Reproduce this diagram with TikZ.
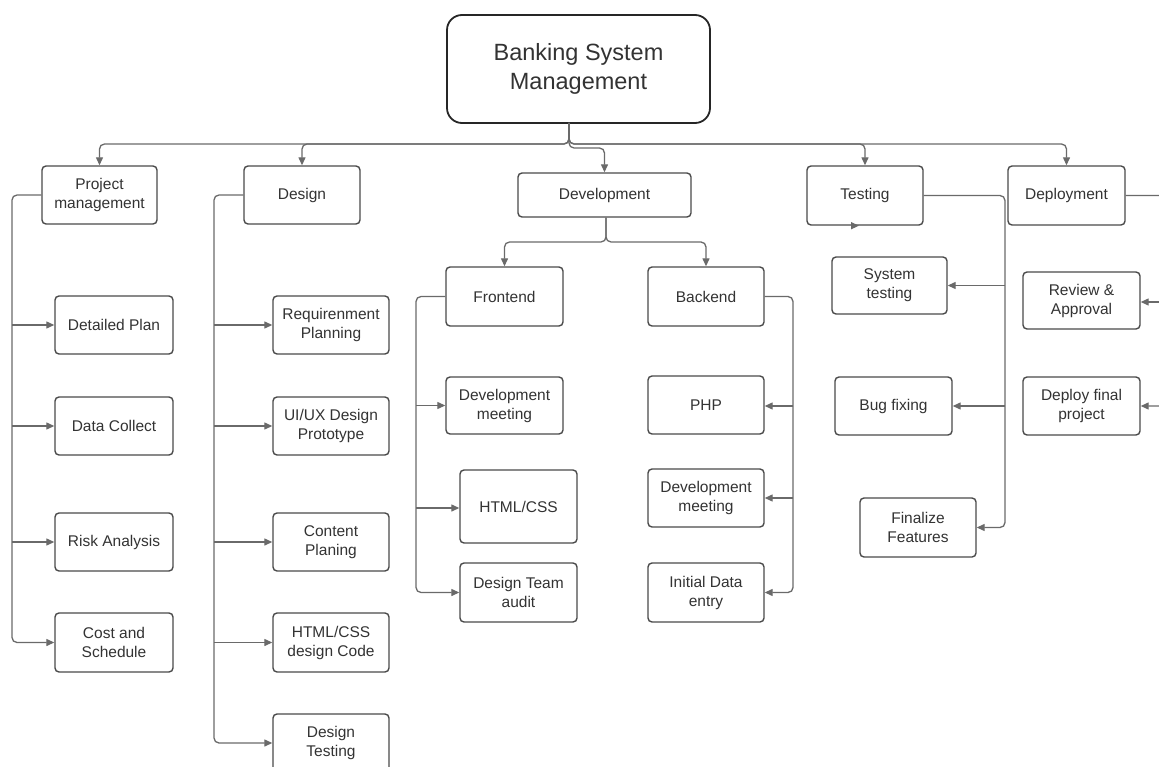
\documentclass[tikz,border=0pt]{standalone}
\usepackage{fontspec}
\setmainfont{Liberation Sans}
\usetikzlibrary{arrows.meta,calc}
\definecolor{boxc}{HTML}{4A4A4A}
\definecolor{rootc}{HTML}{262626}
\definecolor{linec}{HTML}{6A6A6A}
\definecolor{txt}{HTML}{333333}
\begin{document}
\begin{tikzpicture}[x=1pt,y=-1pt,
  wbs/.style={draw=boxc, line width=1.4pt, rounded corners=4pt, fill=white,
    text=txt, align=center, inner sep=0pt, font=\fontsize{15.5}{19}\selectfont},
  rootbox/.style={draw=rootc, line width=1.8pt, rounded corners=15pt, fill=white,
    text=txt, align=center, inner sep=0pt, font=\fontsize{23.5}{29}\selectfont},
  link/.style={draw=linec, line width=1.3pt, rounded corners=5pt},
  conn/.style={link, -{Triangle[length=8pt,width=7pt]}},
]
\useasboundingbox (0,0) rectangle (1159,767);
\clip (0,0) rectangle (1159,767);
\fill[white] (0,0) rectangle (1159,767);

% ---- top level ----
\node[rootbox, minimum width=263, minimum height=108] (root) at (578.5,69) {Banking System\\Management};
\node[wbs, minimum width=115, minimum height=58] (pm)  at (99.5,195)   {Project\\management};
\node[wbs, minimum width=116, minimum height=58] (ds)  at (302,195)    {Design};
\node[wbs, minimum width=173, minimum height=44] (dv)  at (604.5,195)  {Development};
\node[wbs, minimum width=116, minimum height=59] (ts)  at (865,195.5)  {Testing};
\node[wbs, minimum width=117, minimum height=59] (dep) at (1066.5,195.5) {Deployment};

% ---- project management ----
\node[wbs, minimum width=118, minimum height=58] (dpl) at (114,325)   {Detailed Plan};
\node[wbs, minimum width=118, minimum height=58] (dc)  at (114,426)   {Data Collect};
\node[wbs, minimum width=118, minimum height=58] (ra)  at (114,542)   {Risk Analysis};
\node[wbs, minimum width=118, minimum height=59] (cs)  at (114,642.5) {Cost and\\Schedule};

% ---- design ----
\node[wbs, minimum width=116, minimum height=58] (rp)  at (331,325)   {Requirenment\\Planning};
\node[wbs, minimum width=116, minimum height=58] (ui)  at (331,426)   {UI/UX Design\\Prototype};
\node[wbs, minimum width=116, minimum height=58] (cp)  at (331,542)   {Content\\Planing};
\node[wbs, minimum width=116, minimum height=59] (hd)  at (331,642.5) {HTML/CSS\\design Code};
\node[wbs, minimum width=116, minimum height=58] (dt)  at (331,743)   {Design\\Testing};

% ---- development ----
\node[wbs, minimum width=117, minimum height=59] (fe)  at (504.5,296.5) {Frontend};
\node[wbs, minimum width=116, minimum height=59] (be)  at (706,296.5)   {Backend};
\node[wbs, minimum width=117, minimum height=57] (fm)  at (504.5,405.5) {Development\\meeting};
\node[wbs, minimum width=117, minimum height=73] (hc)  at (518.5,506.5) {HTML/CSS};
\node[wbs, minimum width=117, minimum height=59] (fa)  at (518.5,592.5) {Design Team\\audit};
\node[wbs, minimum width=116, minimum height=58] (php) at (706,405)     {PHP};
\node[wbs, minimum width=116, minimum height=58] (bm)  at (706,498)     {Development\\meeting};
\node[wbs, minimum width=116, minimum height=59] (ide) at (706,592.5)   {Initial Data\\entry};

% ---- testing ----
\node[wbs, minimum width=115, minimum height=57] (st)  at (889.5,285.5) {System\\testing};
\node[wbs, minimum width=117, minimum height=58] (bf)  at (893.5,406)   {Bug fixing};
\node[wbs, minimum width=116, minimum height=59] (ff)  at (918,527.5)   {Finalize\\Features};

% ---- deployment ----
\node[wbs, minimum width=117, minimum height=57] (rv)  at (1081.5,300.5) {Review \&\\Approval};
\node[wbs, minimum width=117, minimum height=58] (df)  at (1081.5,406)   {Deploy final\\project};

% ---- helper coordinates for buses and trunks ----
\coordinate (rt)   at (569,123);
\coordinate (bus)  at (0,144);
\coordinate (bus2) at (0,148);
\coordinate (dbus) at (0,242);
\coordinate (pmx)  at (12,0);
\coordinate (dsx)  at (214,0);
\coordinate (fex)  at (416,0);
\coordinate (bex)  at (793,0);
\coordinate (tsx)  at (1005,0);
\coordinate (depx) at (1172,0);

% ---- root to first level ----
\begin{scope}[on background layer/.style={}]
\draw[conn] (rt) |- (pm.north |- bus) -- (pm.north);
\draw[conn] (rt) |- (ds.north |- bus) -- (ds.north);
\draw[conn] (rt) |- (ts.north |- bus) -- (ts.north);
\draw[conn] (rt) |- (dep.north |- bus) -- (dep.north);
\draw[conn] (rt) |- (dv.north |- bus2) -- (dv.north);
\end{scope}

% ---- development split ----
\draw[conn] ([xshift=1.5pt]dv.south) |- (fe.north |- dbus) -- (fe.north);
\draw[conn] ([xshift=1.5pt]dv.south) |- (be.north |- dbus) -- (be.north);

% ---- project management trunk ----
\draw[conn] (pm.west) -| (pmx |- cs.west) -- (cs.west);
\draw[conn] (pmx |- dpl.west) -- (dpl.west);
\draw[conn] (pmx |- dc.west) -- (dc.west);
\draw[conn] (pmx |- ra.west) -- (ra.west);

% ---- design trunk ----
\draw[conn] (ds.west) -| (dsx |- dt.west) -- (dt.west);
\draw[conn] (dsx |- rp.west) -- (rp.west);
\draw[conn] (dsx |- ui.west) -- (ui.west);
\draw[conn] (dsx |- cp.west) -- (cp.west);
\draw[conn] (dsx |- hd.west) -- (hd.west);

% ---- frontend trunk ----
\draw[conn] (fe.west) -| (fex |- fa.west) -- (fa.west);
\draw[conn] (fex |- fm.west) -- (fm.west);
\draw[conn] ([yshift=-1.5pt]fex |- hc.west) -- ([yshift=-1.5pt]hc.west);

% ---- backend trunk ----
\draw[conn] (be.east) -| (bex |- ide.east) -- (ide.east);
\draw[conn] ([yshift=-1pt]bex |- php.east) -- ([yshift=-1pt]php.east);
\draw[conn] (bex |- bm.east) -- (bm.east);

% ---- testing trunk ----
\draw[conn] (ts.east) -| (tsx |- ff.east) -- (ff.east);
\draw[conn] (tsx |- st.east) -- (st.east);
\draw[conn] (tsx |- bf.east) -- (bf.east);
\draw[link, -{Triangle[length=8pt,width=7pt]}] ([xshift=-12pt]ts.south) -- ([xshift=-6pt]ts.south);

% ---- deployment trunk ----
\draw[conn] (dep.east) -| (depx |- df.east) -- (df.east);
\draw[conn] ([yshift=-1.5pt]depx |- rv.east) -- ([yshift=-1.5pt]rv.east);
\end{tikzpicture}
\end{document}
